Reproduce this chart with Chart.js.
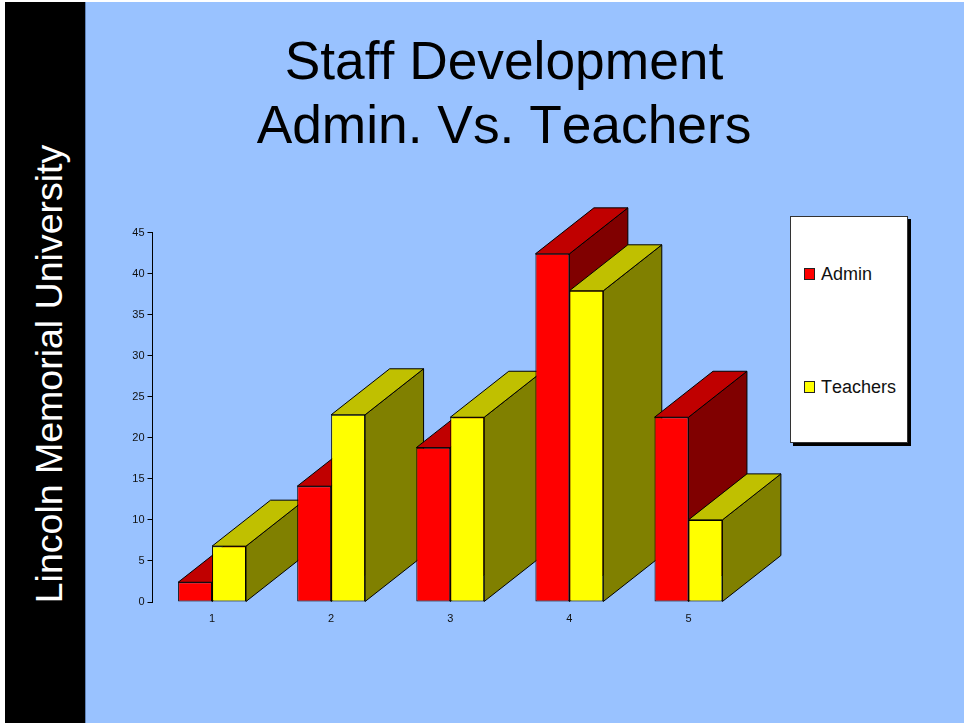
<!DOCTYPE html>
<html>
<head>
<meta charset="utf-8">
<script src="https://cdn.jsdelivr.net/npm/chart.js@4/dist/chart.umd.min.js"></script>
<style>
html,body{margin:0;padding:0;background:#fff;width:964px;height:723px;overflow:hidden;font-family:"Liberation Sans",Arial,sans-serif;font-variant-ligatures:none;font-kerning:none}
#panel{position:absolute;left:85px;top:2px;right:0;bottom:0;background:#99C2FF}
#strip{position:absolute;left:5px;top:2px;width:80px;bottom:0;background:#000;border-right:1px solid #5f83b8;box-sizing:content-box}
#side{position:absolute;left:50px;top:373.5px;transform:translate(-50%,-50%) rotate(-90deg);color:#fff;font-size:37.5px;white-space:nowrap;line-height:1}
#title{position:absolute;left:85px;width:838px;top:29px;text-align:center;color:#000;font-size:53.3px;line-height:64px}
canvas{position:absolute;left:0;top:0}
#legend{position:absolute;left:790px;top:216px;width:118px;height:227px;background:#fff;border:1px solid #333;box-sizing:border-box;box-shadow:3px 3px 0 #000}
.item{position:absolute;left:13px;display:flex;align-items:center;font-size:18px;color:#111;line-height:20px;white-space:nowrap}
.item i{display:block;width:11px;height:12px;border:1px solid #222;box-sizing:border-box;margin-right:6px}
</style>
</head>
<body>
<div id="panel"></div>
<div id="strip"></div>
<div id="side">Lincoln Memorial University</div>
<div id="title">Staff Development<br>Admin. Vs. Teachers</div>
<div id="legend"></div>
<canvas id="c" width="964" height="723"></canvas>
<script>
const categories = ['1', '2', '3', '4', '5'];
const adminValues = [2.4, 14.1, 18.8, 42.4, 22.5];
const teacherValues = [6.8, 22.8, 22.5, 37.9, 10];
const seriesNames = ['Admin', 'Teachers'];
const frontColors = ['#FF0000', '#FFFF00'];
const topColors = ['#C00000', '#C0C000'];
const sideColors = ['#800000', '#808000'];
const depthX = 58.5, depthY = 46;

function poly(ctx, pts, fill) {
  ctx.beginPath();
  pts.forEach((p, i) => i ? ctx.lineTo(p[0], p[1]) : ctx.moveTo(p[0], p[1]));
  ctx.closePath();
  ctx.fillStyle = fill;
  ctx.fill();
  ctx.lineWidth = 1;
  ctx.strokeStyle = '#000';
  ctx.lineJoin = 'round';
  ctx.stroke();
}

const extrude = {
  id: 'extrude',
  beforeDatasetsDraw(chart) {
    const ctx = chart.ctx;
    const metas = chart.getSortedVisibleDatasetMetas();
    categories.forEach((_, i) => {
      metas.forEach((meta, d) => {
        const bar = meta.data[i];
        const l = bar.x - bar.width / 2, r = bar.x + bar.width / 2;
        const t = bar.y, b = bar.base;
        poly(ctx, [[r, t], [r + depthX, t - depthY], [r + depthX, b - depthY], [r, b]], sideColors[d]);
        poly(ctx, [[l, t], [l + depthX, t - depthY], [r + depthX, t - depthY], [r, t]], topColors[d]);
        bar.draw(ctx);
      });
    });
    return false;
  }
};

const chart = new Chart(document.getElementById('c'), {
  type: 'bar',
  data: {
    labels: categories,
    datasets: [
      { label: seriesNames[0], data: adminValues, backgroundColor: frontColors[0] },
      { label: seriesNames[1], data: teacherValues, backgroundColor: frontColors[1] }
    ]
  },
  options: {
    responsive: false,
    animation: false,
    layout: { padding: { left: 0, right: 216, top: 232.5, bottom: 91 } },
    datasets: { bar: { borderColor: '#000', borderWidth: 1, borderSkipped: false, categoryPercentage: 0.57, barPercentage: 1 } },
    plugins: { legend: { display: false }, title: { display: false }, tooltip: { enabled: false } },
    scales: {
      x: {
        border: { display: false },
        grid: { display: false },
        ticks: { color: '#111', font: { family: '"Liberation Sans"', size: 11 }, padding: 2, maxRotation: 0 },
        afterFit(s) { s.height = 30; }
      },
      y: {
        min: 0, max: 45,
        border: { display: true, color: '#000', width: 1 },
        grid: { drawOnChartArea: false, drawTicks: true, tickLength: 5, color: '#000', tickColor: '#000' },
        ticks: { stepSize: 5, color: '#111', font: { family: '"Liberation Sans"', size: 11 }, padding: 3 },
        afterFit(s) { s.width = 152.5; }
      }
    }
  },
  plugins: [extrude]
});

const legendEl = document.getElementById('legend');
const itemTops = [47, 160];
chart.data.datasets.forEach((ds, i) => {
  const el = document.createElement('div');
  el.className = 'item';
  el.style.top = itemTops[i] + 'px';
  const sw = document.createElement('i');
  sw.style.background = ds.backgroundColor;
  el.appendChild(sw);
  el.appendChild(document.createTextNode(ds.label));
  legendEl.appendChild(el);
});
</script>
</body>
</html>
